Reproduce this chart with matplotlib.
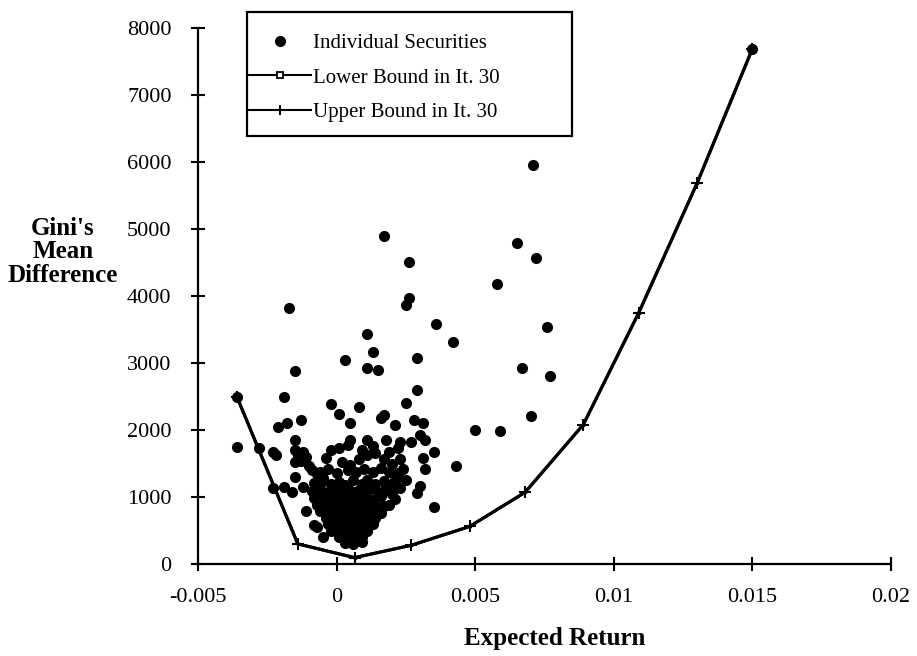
import matplotlib
matplotlib.use("Agg")
import matplotlib.pyplot as plt
from matplotlib.lines import Line2D
from matplotlib.patches import Rectangle

plt.rcParams['font.family'] = ['Liberation Serif', 'DejaVu Serif']

# ---------------- data ----------------
# efficient frontier (upper bound, iteration 30)
upper_x = [-0.0036, -0.0014, 0.00065, 0.0027, 0.0048, 0.0068, 0.0089, 0.0109, 0.0130, 0.0150]
upper_y = [2500, 300, 95, 280, 560, 1070, 2080, 3750, 5680, 7690]
# lower bound coincides with the upper bound at iteration 30
lower_x = list(upper_x)
lower_y = list(upper_y)

# individual securities (expected return, Gini's mean difference)
sec_right = [(0.0150, 7690), (0.0071, 5950), (0.0065, 4790), (0.0072, 4560), (0.0058, 4180),
             (0.0076, 3530), (0.0067, 2920), (0.0077, 2810), (0.0070, 2210), (0.0050, 2000),
             (0.0059, 1985), (0.0043, 1466)]
sec_mid_high = [(0.0017, 4900), (0.0026, 4510), (0.0026, 3970), (0.0025, 3870), (0.0036, 3580),
                (0.0042, 3310), (0.0011, 3430), (0.0013, 3160), (0.0029, 3075), (0.0003, 3040),
                (0.0011, 2930), (0.0015, 2900), (0.0029, 2600), (0.0025, 2400), (0.0028, 2150),
                (0.0031, 2110), (0.0027, 1825), (0.0030, 1930), (0.0032, 1855), (0.0035, 1665),
                (0.0031, 1580), (0.0032, 1425), (0.0030, 1160), (0.0029, 1055), (0.0035, 855)]
sec_left = [(-0.0036, 2500), (-0.0036, 1750), (-0.0017, 3825), (-0.0015, 2885), (-0.0019, 2490),
            (-0.0021, 2040), (-0.0018, 2110), (-0.0013, 2150), (-0.0015, 1850), (-0.0028, 1725),
            (-0.0023, 1675), (-0.0022, 1625), (-0.0015, 1700), (-0.0014, 1610), (-0.0012, 1675),
            (-0.0011, 1600), (-0.0015, 1525), (-0.0015, 1300), (-0.0023, 1130), (-0.0019, 1155),
            (-0.0016, 1070), (-0.0012, 1145), (-0.0011, 790), (-0.0008, 580), (-0.0007, 555),
            (-0.0005, 405)]
sec_mid = [(-0.0002, 2390), (0.0001, 2245), (0.0008, 2345), (0.0005, 2110), (0.0005, 1850),
           (0.0004, 1775), (-0.0004, 1575), (-0.0002, 1700), (0.0001, 1725), (0.0011, 1850),
           (0.0016, 2175), (0.0017, 2225), (0.0021, 2075), (0.0018, 1850), (0.0023, 1825),
           (0.0022, 1725), (0.0019, 1675), (0.0022, 1355), (0.0021, 1255), (0.0018, 1155),
           (0.0021, 975)]
sec_chain = [(-0.0013, 1540), (-0.0010, 1470), (-0.0009, 1400), (-0.0007, 1340), (-0.0005, 1290),
             (0.0002, 1520), (0.0005, 1480), (0.0008, 1560), (0.0011, 1620), (0.0014, 1660),
             (0.0017, 1560), (0.0020, 1500), (0.0023, 1560), (0.0009, 1700), (0.0013, 1760),
             (0.0024, 1420), (0.0025, 1250), (0.0023, 1130), (0.0020, 1040), (0.0019, 880)]
sec_core = [
    (-0.0006, 1380), (-0.0003, 1420), (0.0000, 1360), (0.0004, 1410), (0.0007, 1370), (0.0010, 1420),
    (0.0013, 1380), (0.0016, 1430), (0.0019, 1370), (0.0022, 1300),
    (-0.0008, 1210), (-0.0005, 1240), (-0.0002, 1190), (0.0001, 1230), (0.0003, 1180), (0.0006, 1250),
    (0.0009, 1200), (0.0011, 1260), (0.0014, 1190), (0.0017, 1240), (0.0020, 1180),
    (-0.0009, 1090), (-0.0006, 1120), (-0.0003, 1070), (-0.0001, 1110), (0.0002, 1080), (0.0004, 1130),
    (0.0006, 1070), (0.0008, 1110), (0.0010, 1060), (0.0012, 1120), (0.0015, 1080), (0.0018, 1100),
    (-0.0008, 990), (-0.0005, 1020), (-0.0002, 970), (0.0000, 1010), (0.0002, 960), (0.0004, 1000),
    (0.0005, 950), (0.0007, 1010), (0.0009, 970), (0.0011, 1000), (0.0013, 960), (0.0016, 1010),
    (-0.0007, 880), (-0.0004, 910), (-0.0002, 870), (0.0000, 900), (0.0001, 850), (0.0003, 920),
    (0.0005, 870), (0.0006, 900), (0.0008, 860), (0.0010, 910), (0.0012, 870), (0.0014, 900),
    (0.0017, 860),
    (-0.0006, 790), (-0.0003, 810), (-0.0001, 770), (0.0001, 800), (0.0002, 760), (0.0004, 820),
    (0.0005, 780), (0.0007, 800), (0.0009, 760), (0.0011, 810), (0.0013, 780), (0.0016, 760),
    (-0.0004, 690), (-0.0002, 710), (0.0000, 680), (0.0002, 700), (0.0003, 660), (0.0005, 720),
    (0.0006, 680), (0.0008, 700), (0.0010, 670), (0.0012, 710), (0.0014, 680),
    (-0.0003, 600), (-0.0001, 620), (0.0001, 580), (0.0003, 610), (0.0004, 570), (0.0006, 620),
    (0.0007, 590), (0.0009, 610), (0.0011, 580), (0.0013, 600),
    (-0.0002, 500), (0.0000, 520), (0.0002, 490), (0.0004, 510), (0.0005, 470), (0.0007, 510),
    (0.0009, 480), (0.0011, 500),
    (0.0001, 410), (0.0003, 390), (0.0005, 420), (0.0007, 390), (0.0009, 410),
    (0.0003, 320), (0.0006, 300), (0.0009, 330),
]

x_ticks = [-0.005, 0, 0.005, 0.01, 0.015, 0.02]
x_tick_labels = ['-0.005', '0', '0.005', '0.01', '0.015', '0.02']
y_ticks = [0, 1000, 2000, 3000, 4000, 5000, 6000, 7000, 8000]
y_tick_labels = ['0', '1000', '2000', '3000', '4000', '5000', '6000', '7000', '8000']

legend_labels = ['Individual Securities', 'Lower Bound in It. 30', 'Upper Bound in It. 30']
x_label = 'Expected Return'
y_label = "Gini's\nMean\nDifference"

# ---------------- figure ----------------
W, H = 917, 656
fig = plt.figure(figsize=(W / 100, H / 100), dpi=100)
ax = fig.add_axes([198 / W, 1 - 564 / H, (891 - 198) / W, (564 - 28) / H])

all_sec = sec_right + sec_mid_high + sec_left + sec_mid + sec_chain + sec_core
sx = [p[0] for p in all_sec]
sy = [p[1] for p in all_sec]

ax.plot(lower_x, lower_y, color='k', lw=2.2, marker='s', ms=2, zorder=2)
ax.plot(upper_x, upper_y, color='k', lw=2.2, marker='+', ms=8, mew=1.5, zorder=3)
ax.plot(sx, sy, 'o', color='k', ms=7, mec='k', zorder=4)

ax.set_xlim(-0.005, 0.02)
ax.set_ylim(0, 8000)
ax.set_xticks(x_ticks)
ax.set_xticklabels(x_tick_labels)
ax.set_yticks(y_ticks)
ax.set_yticklabels(y_tick_labels)

for s in ['top', 'right']:
    ax.spines[s].set_visible(False)
for s in ['left', 'bottom']:
    ax.spines[s].set_linewidth(1.6)
ax.tick_params(axis='both', direction='inout', length=10, width=1.5, labelsize=16)
ax.tick_params(axis='x', pad=12)
ax.tick_params(axis='y', pad=14)

fig.text(555 / W, 1 - 638 / H, x_label, ha='center', va='center', fontsize=18, fontweight='bold')
fig.text(63 / W, 1 - 252 / H, y_label, ha='center', va='center', fontsize=18, fontweight='bold',
         multialignment='center', linespacing=1.05)

# legend
handles = [
    Line2D([], [], ls='none', marker='o', color='k', ms=7),
    Line2D([], [], color='k', lw=1.5, marker='s', ms=4.5, mfc='white', mec='k', mew=1.3),
    Line2D([], [], color='k', lw=1.5, marker='|', ms=7, mew=1.5),
]
fig.legend(handles, legend_labels, loc='upper left', bbox_to_anchor=(238 / W, 1 - 23 / H),
           frameon=False, prop={'family': 'Liberation Serif', 'size': 15}, numpoints=1,
           handlelength=3.0, handletextpad=0.1, labelspacing=0.72, borderpad=0.0)
fig.patches.append(Rectangle((247 / W, 1 - 136 / H), (572 - 247) / W, (136 - 12) / H,
                             transform=fig.transFigure, fill=False, ec='k', lw=1.6))

fig.savefig('out.png', dpi=100)
